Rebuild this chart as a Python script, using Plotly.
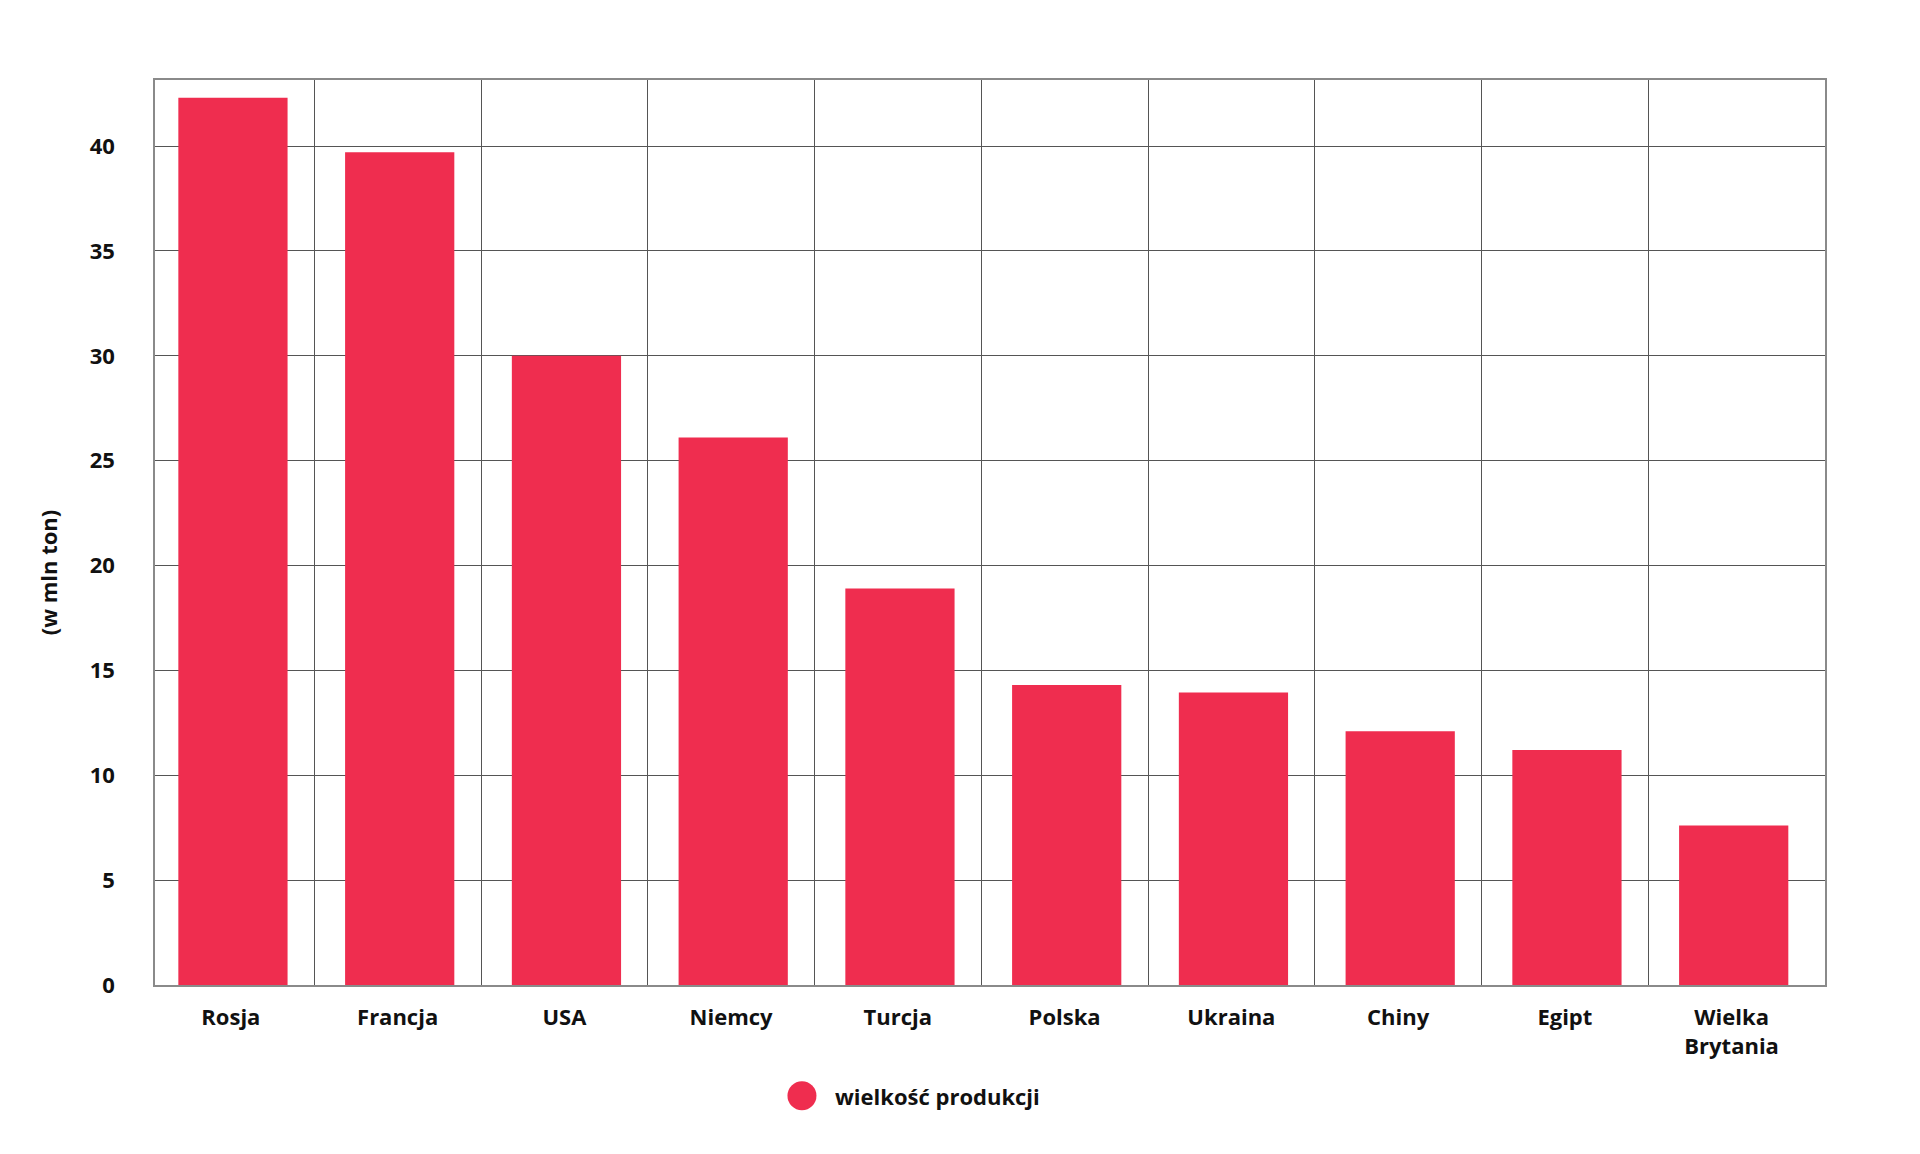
import plotly.graph_objects as go

countries = ['Rosja', 'Francja', 'USA', 'Niemcy', 'Turcja', 'Polska', 'Ukraina', 'Chiny', 'Egipt', 'Wielka<br>Brytania']
production = [42.3, 39.7, 30.0, 26.1, 18.9, 14.3, 13.95, 12.1, 11.2, 7.6]
y_ticks = [0, 5, 10, 15, 20, 25, 30, 35, 40]

red = '#EF2D4F'
font = dict(family='Open Sans', size=22, color='#111111', weight=700)

pos = list(range(len(countries)))
# vertical grid sits between the bars, but not after the last one
between = [p + 0.5 for p in pos[:-1]]

# bars sit a touch right of their slot centre in the original
fig = go.Figure(go.Bar(x=pos, y=production, marker_color=red, marker_line_width=0,
                       width=0.655, offset=-0.315, showlegend=False, name='wielkość produkcji'))

# the original grid is nudged a little left of the plot frame, hence the uneven range
fig.update_xaxes(range=[-0.455, 9.56], tickmode='array', tickvals=pos, ticktext=countries, showgrid=False,
                 minor=dict(tickmode='array', tickvals=between, showgrid=True, gridcolor='#555555',
                            gridwidth=1, ticks=''),
                 showline=True, linecolor='#8a8a8a', linewidth=1.5, mirror=True, ticks='',
                 tickfont=font, ticklabelstandoff=12, zeroline=False)
fig.update_yaxes(range=[0, 43.15], tickvals=y_ticks, showgrid=True, gridcolor='#555555', gridwidth=1,
                 showline=True, linecolor='#8a8a8a', linewidth=1.5, mirror=True, ticks='',
                 tickfont=font, ticklabelstandoff=34, zeroline=False)

# y axis title placed a bit below centre, like the original
fig.add_annotation(text='(w mln ton)', xref='paper', yref='paper', x=0, y=0.456, xshift=-107,
                   textangle=-90, showarrow=False, font=font, xanchor='center', yanchor='middle')

# legend: big dot plus label
fig.add_shape(type='circle', xref='paper', yref='paper', xsizemode='pixel', ysizemode='pixel',
              xanchor=0.3874, yanchor=-0.1225, x0=-14.5, x1=14.5, y0=-14.5, y1=14.5,
              fillcolor=red, line_width=0)
fig.add_annotation(text='wielkość produkcji', xref='paper', yref='paper', x=0.406, y=-0.1225,
                   showarrow=False, font=font, xanchor='left', yanchor='middle')

# page body has an 8px margin, so sizes/margins are trimmed to keep the plot where it was
fig.update_layout(width=1904, height=1138, margin=dict(l=147, r=87, t=72, b=161),
                  plot_bgcolor='white', paper_bgcolor='white')
fig.write_html('out.html')
